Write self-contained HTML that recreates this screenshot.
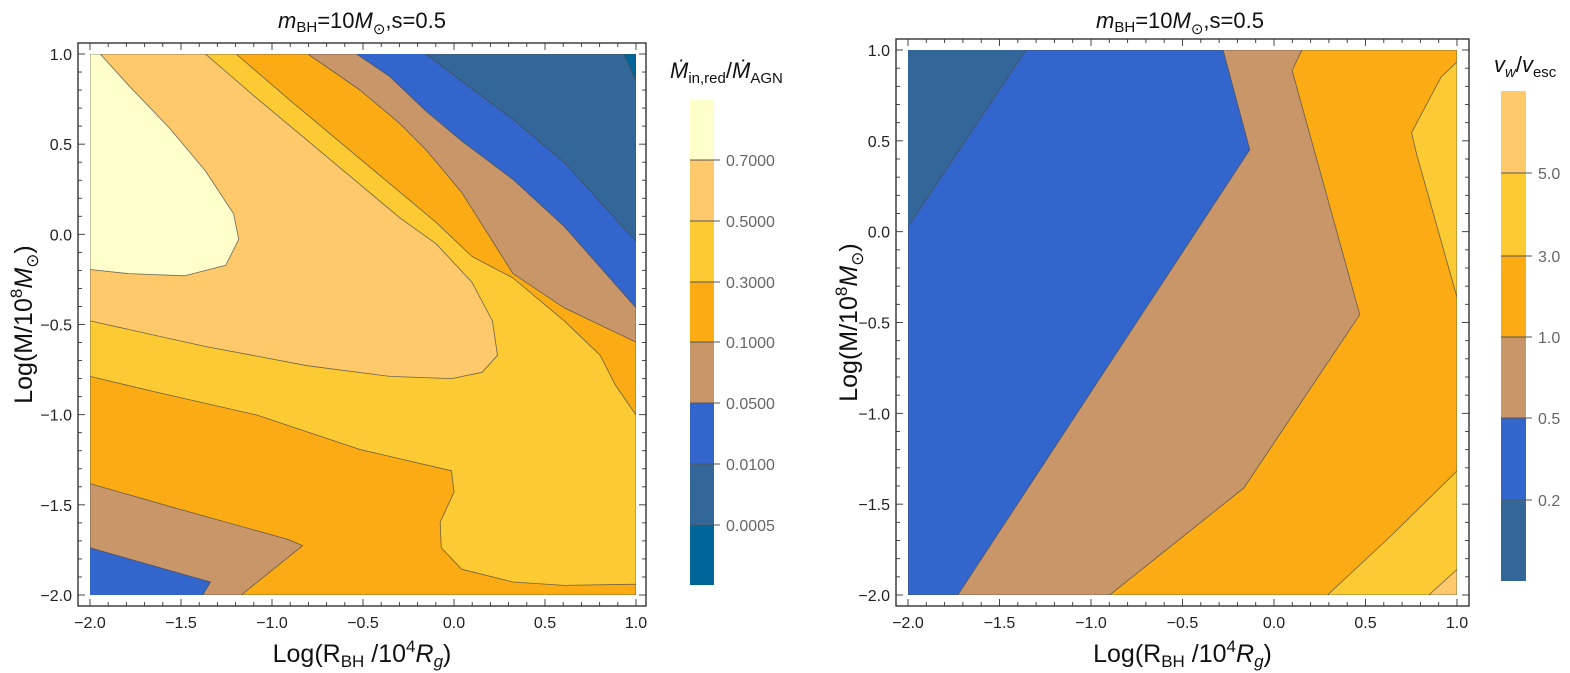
<!DOCTYPE html>
<html><head><meta charset="utf-8"><style>
body{margin:0;background:#fff;}
svg{display:block;font-family:"Liberation Sans",sans-serif;}
</style></head><body>
<svg id="fig" width="1570" height="673" xmlns="http://www.w3.org/2000/svg"></svg>
<script>
// ---------- Left chart data (contour boundaries in data coords [x,y]) ----------
const leftLevels = ["0.7000","0.5000","0.3000","0.1000","0.0500","0.0100","0.0005"];
const leftColors = ["#ffffcc","#fdc96b","#fcca33","#fbab13","#c9966a","#3366cc","#336699","#006699"];
const leftDark = [[-0.155,1],[0.042,0.850],[0.324,0.637],[0.606,0.399],[1,-0.040],[1,1]];
const leftDeepest = [[0.930,1],[0.958,0.945],[1,0.850],[1,1]];
const leftTan = [[-2,1],[-0.535,1],[-0.352,0.874],[-0.155,0.684],[0.042,0.518],[0.324,0.304],[0.606,0.043],[1,-0.408],[1,-2],[-1.380,-2],[-1.338,-1.928],[-2,-1.738]];
const leftOrange = [[-2,1],[-0.803,1],[-0.521,0.803],[-0.296,0.613],[-0.155,0.470],[0.042,0.233],[0.324,-0.218],[0.606,-0.408],[1,-0.598],[1,-2],[-1.169,-2],[-0.831,-1.726],[-0.915,-1.691],[-1.507,-1.525],[-2,-1.382]];
const leftYellow = [[-2,1],[-1.197,1],[-0.915,0.755],[-0.634,0.518],[-0.352,0.280],[-0.099,0.067],[0.099,-0.123],[0.324,-0.242],[0.606,-0.480],[0.803,-0.670],[0.887,-0.836],[1,-1.002],[1,-1.940],[0.606,-1.947],[0.324,-1.928],[0.042,-1.857],[-0.070,-1.738],[-0.076,-1.596],[0.0,-1.430],[-0.014,-1.311],[-0.521,-1.192],[-1.084,-1.002],[-1.648,-0.872],[-2,-0.788]];
const leftLightOrange = [[-2,1],[-1.366,1],[-1.084,0.755],[-0.803,0.518],[-0.521,0.280],[-0.296,0.090],[-0.099,-0.052],[0.099,-0.266],[0.211,-0.480],[0.239,-0.670],[0.155,-0.765],[-0.014,-0.800],[-0.352,-0.788],[-0.803,-0.729],[-1.366,-0.622],[-2,-0.480]];
const leftLightest = [[-2,1],[-1.944,1],[-1.789,0.827],[-1.563,0.589],[-1.366,0.352],[-1.211,0.114],[-1.183,-0.028],[-1.254,-0.171],[-1.479,-0.230],[-1.789,-0.218],[-2,-0.195]];

// ---------- Right chart data ----------
const rightLevels = ["5.0","3.0","1.0","0.5","0.2"];
const rightColors = ["#fdc96b","#fcca33","#fbab13","#c9966a","#3366cc","#336699"];
const rightBlue = [[-1.356,1],[1,1],[1,-2],[-2,-2],[-2,0.027]];
const rightTan = [[-0.278,1],[1,1],[1,-2],[-1.728,-2],[-0.132,0.451]];
const rightOrange = [[0.153,1],[1,1],[1,-2],[-0.898,-2],[-0.165,-1.411],[0.469,-0.457],[0.099,0.887]];
const rightYellowTop = [[1,0.934],[0.913,0.851],[0.752,0.545],[0.779,0.427],[1,-0.362]];
const rightYellowBottom = [[1,-1.317],[0.644,-1.670],[0.293,-2],[1,-2]];
const rightLight = [[0.846,-2],[1,-1.859],[1,-2]];

const xTicks = [-2.0,-1.5,-1.0,-0.5,0.0,0.5,1.0];
const yTicks = [1.0,0.5,0.0,-0.5,-1.0,-1.5,-2.0];

const NS="http://www.w3.org/2000/svg";
const svg=document.getElementById('fig');
function mk(tag,attrs,parent){const e=document.createElementNS(NS,tag);for(const k in attrs)e.setAttribute(k,attrs[k]);(parent||svg).appendChild(e);return e;}
function fmt(v){return (v<0?"\u2212":"")+Math.abs(v).toFixed(1);}

function panel(cfg){
  const g=mk('g',{});
  
  
  const sx=v=>cfg.x0+(v+2)/3*(cfg.x1-cfg.x0);
  const sy=v=>cfg.y0+(1-v)/3*(cfg.y1-cfg.y0);
  const cid=cfg.name+'-clip';
  const cp=mk('clipPath',{id:cid},g);
  mk('rect',{x:cfg.x0,y:cfg.y0,width:cfg.x1-cfg.x0,height:cfg.y1-cfg.y0},cp);
  const bg=mk('rect',{x:cfg.x0,y:cfg.y0,width:cfg.x1-cfg.x0,height:cfg.y1-cfg.y0,fill:cfg.base},g);
  
  
  const cg=mk('g',{'clip-path':'url(#'+cid+')'},g);
  cfg.regions.forEach(r=>{
    const p=mk('polygon',{points:r.pts.map(q=>sx(q[0]).toFixed(1)+','+sy(q[1]).toFixed(1)).join(' '),fill:r.color,stroke:'#4a4a4a','stroke-width':0.8,'stroke-opacity':0.8,'stroke-linejoin':'round'},cg);
    
    
  });
  const fr=mk('rect',{x:cfg.fx0,y:cfg.fy0,width:cfg.fx1-cfg.fx0,height:cfg.fy1-cfg.fy0,fill:'none',stroke:'#222','stroke-width':1.3},g);
  
  
  for(let i=0;i<=30;i++){
    const v=-2+i*0.1, major=(i%5===0), L=major?7:4;
    const px=sx(v), py=sy(v);
    mk('line',{x1:px,y1:cfg.fy1,x2:px,y2:cfg.fy1-L,stroke:'#333','stroke-width':0.9},g);
    mk('line',{x1:px,y1:cfg.fy0,x2:px,y2:cfg.fy0+L,stroke:'#333','stroke-width':0.9},g);
    mk('line',{x1:cfg.fx0,y1:py,x2:cfg.fx0+L,y2:py,stroke:'#333','stroke-width':0.9},g);
    mk('line',{x1:cfg.fx1,y1:py,x2:cfg.fx1-L,y2:py,stroke:'#333','stroke-width':0.9},g);
  }
  xTicks.forEach(v=>{const t=mk('text',{x:sx(v),y:cfg.fy1+22,'font-size':16,'text-anchor':'middle',fill:'#222'},g);t.textContent=fmt(v);
    });
  yTicks.forEach(v=>{const t=mk('text',{x:cfg.fx0-6,y:sy(v)+6,'font-size':16,'text-anchor':'end',fill:'#222'},g);t.textContent=fmt(v);
    });
  const tt=mk('text',{x:cfg.tx,y:28,'font-size':22,'text-anchor':'middle',fill:'#111'},g);
  tt.innerHTML='<tspan font-style="italic">m</tspan><tspan font-size="15" dy="4">BH</tspan><tspan dy="-4">=10</tspan><tspan font-style="italic">M</tspan><tspan font-size="15" dy="6">\u2299</tspan><tspan dy="-6">,s=0.5</tspan>';
  
  const xt=mk('text',{x:(cfg.fx0+cfg.fx1)/2,y:662,'font-size':25,'text-anchor':'middle',fill:'#111'},g);
  xt.innerHTML='Log(R<tspan font-size="17" dy="5">BH</tspan><tspan dy="-5"> /10</tspan><tspan font-size="17" dy="-10">4</tspan><tspan dy="10" font-style="italic">R</tspan><tspan font-size="17" dy="5" font-style="italic">g</tspan><tspan dy="-5">)</tspan>';
  
  const yt=mk('text',{x:0,y:0,'font-size':25,'text-anchor':'middle',fill:'#111',transform:'translate('+cfg.ytx+','+((cfg.fy0+cfg.fy1)/2)+') rotate(-90)'},g);
  yt.innerHTML='Log(M/10<tspan font-size="17" dy="-10">8</tspan><tspan dy="10" font-style="italic">M</tspan><tspan font-size="17" dy="6">\u2299</tspan><tspan dy="-6">)</tspan>';
  
  const cb=mk('g',{},g);
  
  const n=cfg.cbColors.length;
  for(let i=0;i<n;i++){
    const yA=i===0?cfg.cby0:cfg.cbTicks[i-1], yB=i===n-1?cfg.cby1:cfg.cbTicks[i];
    const r=mk('rect',{x:cfg.cbx0,y:yA,width:cfg.cbx1-cfg.cbx0,height:yB-yA,fill:cfg.cbColors[i]},cb);
    
  }
  cfg.cbTicks.forEach((y,i)=>{
    mk('line',{x1:cfg.cbx0,y1:y,x2:cfg.cbx1+6,y2:y,stroke:'#555','stroke-width':1},cb);
    const t=mk('text',{x:cfg.cbx1+12,y:y+6,'font-size':16,fill:'#666'},cb);t.textContent=cfg.cbLabels[i];
    
  });
  const ct=mk('text',{x:cfg.cbtx,y:cfg.cbty,'font-size':22,fill:'#111'},cb);
  ct.innerHTML=cfg.cbTitle;
  
}

panel({name:'left-chart',x0:90,x1:636,y0:54,y1:595,fx0:78,fx1:646,fy0:43,fy1:606,tx:362,ytx:32,base:leftColors[5],
  regions:[{name:'region-0.0005-0.01',pts:leftDark,color:leftColors[6]},{name:'region-below-0.0005',pts:leftDeepest,color:leftColors[7]},
    {name:'region-0.05-0.1',pts:leftTan,color:leftColors[4]},{name:'region-0.1-0.3',pts:leftOrange,color:leftColors[3]},
    {name:'region-0.3-0.5',pts:leftYellow,color:leftColors[2]},{name:'region-0.5-0.7',pts:leftLightOrange,color:leftColors[1]},
    {name:'region-above-0.7',pts:leftLightest,color:leftColors[0]}],
  cbx0:690,cbx1:714,cby0:100,cby1:585,cbTicks:[160,221,282,342,403,464,525],cbLabels:leftLevels,cbColors:leftColors,
  cbtx:670,cbty:78,cbTitle:'<tspan font-style="italic">\u1E40</tspan><tspan font-size="15" dy="5">in,red</tspan><tspan dy="-5">/</tspan><tspan font-style="italic">\u1E40</tspan><tspan font-size="15" dy="5">AGN</tspan>'});

panel({name:'right-chart',x0:908,x1:1457,y0:50,y1:595,fx0:896,fx1:1469,fy0:39,fy1:606,tx:1180,ytx:857,base:rightColors[5],
  regions:[{name:'region-0.2-0.5',pts:rightBlue,color:rightColors[4]},{name:'region-0.5-1',pts:rightTan,color:rightColors[3]},
    {name:'region-1-3',pts:rightOrange,color:rightColors[2]},{name:'region-3-5-top',pts:rightYellowTop,color:rightColors[1]},
    {name:'region-3-5-bottom',pts:rightYellowBottom,color:rightColors[1]},{name:'region-above-5',pts:rightLight,color:rightColors[0]}],
  cbx0:1501,cbx1:1526,cby0:91,cby1:581,cbTicks:[173,256,337,418,500],cbLabels:rightLevels,cbColors:rightColors,
  cbtx:1494,cbty:72,cbTitle:'<tspan font-style="italic">v</tspan><tspan font-size="15" dy="5" font-style="italic">w</tspan><tspan dy="-5">/</tspan><tspan font-style="italic">v</tspan><tspan font-size="15" dy="5">esc</tspan>'});
</script>
</body></html>
